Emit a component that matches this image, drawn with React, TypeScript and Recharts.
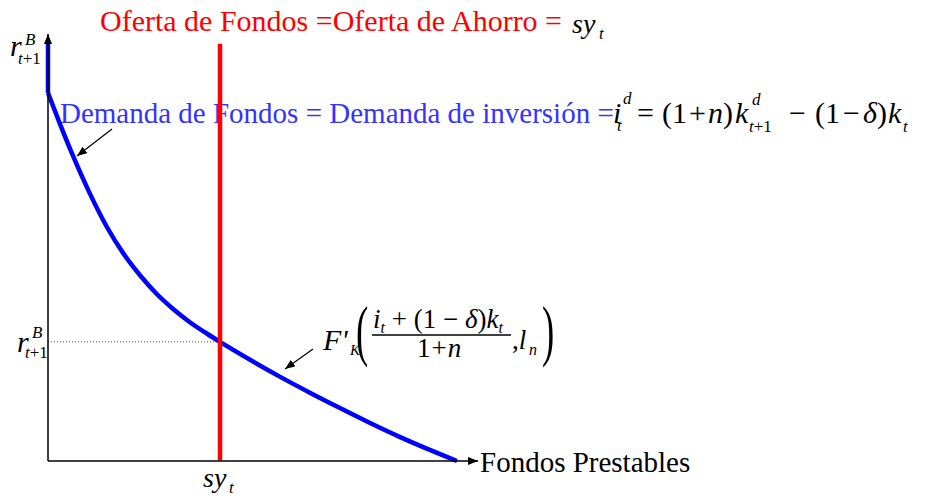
import { ComposedChart, Line, XAxis, YAxis } from "recharts";

// fondos prestables (x) vs tasa r (y), both on a 0..100 scale
const demandaX = [0, 2.8, 5.8, 9.8, 13.7, 17.4, 21.4, 25.3, 29.1, 33.0, 37.0, 40.0, 47.0, 54.0, 60.9, 67.9, 74.9, 81.9, 88.8, 95.1];
const demandaY = [86.2, 78.9, 71.5, 62.5, 54.8, 48.8, 43.5, 39.1, 35.6, 32.5, 29.8, 27.9, 23.7, 19.7, 16.0, 12.4, 8.9, 5.6, 2.6, 0];
const tramoVerticalY = [97.9, 86.2];
const ahorroX = 40.0;
const ahorroY = [0.2, 97.7];
const tasaEquilibrio = 27.9;

const demandaData = demandaX.map((x, i) => ({ x, y: demandaY[i] }));
const verticalData = tramoVerticalY.map((y) => ({ x: 0, y }));
const ofertaData = ahorroY.map((y) => ({ x: ahorroX, y }));
const guiaData = [
  { x: 0, y: tasaEquilibrio },
  { x: ahorroX, y: tasaEquilibrio },
];

const serif = "'Liberation Serif', 'Times New Roman', serif";
const ital = { fontStyle: "italic" };

function T(props: any) {
  const { it, size = 29, fill = "#000", children, ...rest } = props;
  return (
    <text fill={fill} fontFamily={serif} fontSize={size} fontStyle={it ? "italic" : "normal"} {...rest}>
      {children}
    </text>
  );
}

export default function App() {
  return (
    <div style={{ position: "absolute", left: 0, top: 0, width: 932, height: 496, background: "#fff" }}>
      <ComposedChart width={932} height={496} margin={{ top: 34, right: 454, bottom: 34, left: 47 }}>
        <defs>
          <marker id="axisArrow" markerWidth="10" markerHeight="8" refX="10" refY="4" orient="auto-start-reverse" markerUnits="userSpaceOnUse">
            <path d="M0,0 L10,4 L0,8 z" fill="#000" />
          </marker>
          <marker id="ptrArrow" markerWidth="10" markerHeight="8" refX="10" refY="4" orient="auto" markerUnits="userSpaceOnUse">
            <path d="M0,0 L10,4 L0,8 z" fill="#000" />
          </marker>
        </defs>
        <XAxis
          type="number"
          dataKey="x"
          domain={[0, 100]}
          height={1}
          tick={false}
          tickLine={false}
          axisLine={{ stroke: "#000", strokeWidth: 1.5, markerEnd: "url(#axisArrow)" }}
        />
        <YAxis
          type="number"
          domain={[0, 100]}
          width={1}
          tick={false}
          tickLine={false}
          axisLine={{ stroke: "#000", strokeWidth: 1.5, markerStart: "url(#axisArrow)" }}
        />
        <Line data={guiaData} dataKey="y" type="linear" stroke="#555" strokeWidth={1} strokeDasharray="1 2" dot={false} activeDot={false} isAnimationActive={false} />

        <T x={60} y={123} fill="#3333ff">Demanda de Fondos = Demanda de inversión = </T>

        <Line data={verticalData} dataKey="y" type="linear" stroke="#0000ff" strokeWidth={4.5} dot={false} activeDot={false} isAnimationActive={false} />
        <Line data={demandaData} dataKey="y" type="monotone" stroke="#0000ff" strokeWidth={4.5} dot={false} activeDot={false} isAnimationActive={false} />
        <Line data={ofertaData} dataKey="y" type="linear" stroke="#ff0000" strokeWidth={4.5} dot={false} activeDot={false} isAnimationActive={false} />

        {/* title */}
        <T x={100} y={31} size={30} fill="#ff0000">Oferta de Fondos =Oferta de Ahorro = </T>
        <T x={572} y={33} size={28} it>sy</T>
        <T x={599} y={39} size={17} it>t</T>

        {/* equation */}
        <T x={613} y={123} size={30} it>i</T>
        <T x={623} y={104} size={17} it>d</T>
        <T x={617} y={131} size={17} it>t</T>
        <T x={637} y={123} size={30}>=</T>
        <T x={662} y={123} size={30}>
          (1<tspan dx={2}>+</tspan>
          <tspan dx={2} style={ital}>n</tspan>)
        </T>
        <T x={735} y={123} size={30} it>k</T>
        <T x={752} y={105} size={17} it>d</T>
        <T x={749} y={132} size={17}>
          <tspan style={ital}>t</tspan>+1
        </T>
        <T x={789} y={123} size={30}>−</T>
        <T x={815} y={123} size={30}>
          (1<tspan dx={3}>−</tspan>
          <tspan dx={3} style={ital}>δ</tspan>)
        </T>
        <T x={888} y={123} size={30} it>k</T>
        <T x={903} y={132} size={17} it>t</T>

        {/* y labels */}
        <T x={10} y={56} size={30} it>r</T>
        <T x={25} y={45} size={17} it>B</T>
        <T x={18} y={64} size={17}>
          <tspan style={ital}>t</tspan>+1
        </T>
        <T x={17} y={352} size={30} it>r</T>
        <T x={32} y={338} size={17} it>B</T>
        <T x={25} y={358} size={17}>
          <tspan style={ital}>t</tspan>+1
        </T>

        {/* x labels */}
        <T x={203} y={487} size={28} it>sy</T>
        <T x={229} y={493} size={17} it>t</T>
        <T x={480} y={472} size={29}>Fondos Prestables</T>

        {/* F'K label */}
        <T x={323} y={350} size={30} it>F'</T>
        <T x={350} y={355} size={15} it>K</T>
        <T x={0} y={0} size={67} transform="translate(356,353) scale(0.55,1)">(</T>
        <T x={373} y={328} size={27}>
          <tspan style={ital}>i</tspan>
          <tspan style={{ fontStyle: "italic", fontSize: 16 }} dy={5}>t</tspan>
          <tspan dy={-5}> + (1 − </tspan>
          <tspan style={ital}>δ</tspan>)<tspan style={ital}>k</tspan>
          <tspan style={{ fontStyle: "italic", fontSize: 16 }} dy={5}>t</tspan>
        </T>
        <line x1={372} y1={335} x2={511} y2={335} stroke="#000" strokeWidth={1.3} />
        <T x={417} y={357} size={27}>
          1<tspan dx={1}>+</tspan>
          <tspan dx={1} style={ital}>n</tspan>
        </T>
        <T x={512} y={349} size={27}>
          ,<tspan style={ital}>l</tspan>
        </T>
        <T x={529} y={355} size={16} it>n</T>
        <T x={0} y={0} size={67} transform="translate(542,353) scale(0.55,1)">)</T>

        {/* pointers */}
        <line x1={112} y1={129} x2={77} y2={156} stroke="#000" strokeWidth={1.2} markerEnd="url(#ptrArrow)" />
        <line x1={313} y1={349} x2={285} y2={369} stroke="#000" strokeWidth={1.2} markerEnd="url(#ptrArrow)" />
      </ComposedChart>
    </div>
  );
}
